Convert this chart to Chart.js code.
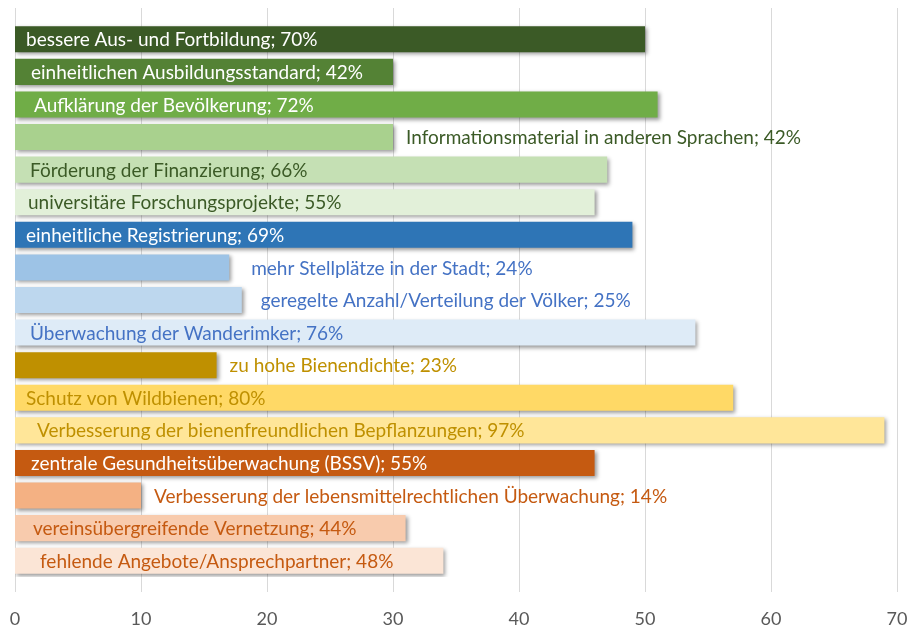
<!DOCTYPE html>
<html>
<head>
<meta charset="utf-8">
<script src="https://cdn.jsdelivr.net/npm/chart.js@4"></script>
<style>
  html, body { margin: 0; padding: 0; background: #fff; }
  #wrap { width: 917px; height: 630px; }
</style>
</head>
<body>
<div id="wrap"><canvas id="barChart"></canvas></div>
<script>
// Kategorien und Werte (von oben nach unten)
const categories = [
  'bessere Aus- und Fortbildung; 70%',
  'einheitlichen Ausbildungsstandard; 42%',
  'Aufklärung der Bevölkerung; 72%',
  'Informationsmaterial in anderen Sprachen; 42%',
  'Förderung der Finanzierung; 66%',
  'universitäre Forschungsprojekte; 55%',
  'einheitliche Registrierung; 69%',
  'mehr Stellplätze in der Stadt; 24%',
  'geregelte Anzahl/Verteilung der Völker; 25%',
  'Überwachung der Wanderimker; 76%',
  'zu hohe Bienendichte; 23%',
  'Schutz von Wildbienen; 80%',
  'Verbesserung der bienenfreundlichen Bepflanzungen; 97%',
  'zentrale Gesundheitsüberwachung (BSSV); 55%',
  'Verbesserung der lebensmittelrechtlichen Überwachung; 14%',
  'vereinsübergreifende Vernetzung; 44%',
  'fehlende Angebote/Ansprechpartner; 48%'
];
const values = [50, 30, 51, 30, 47, 46, 49, 17, 18, 54, 16, 57, 69, 46, 10, 31, 34];
const xTicks = [0, 10, 20, 30, 40, 50, 60, 70];

const barColors = [
  '#3b5a26', '#548235', '#70ad47', '#a9d18e', '#c5e0b4', '#e2f0d9',
  '#2e75b6', '#9dc3e6', '#bdd7ee', '#deebf7',
  '#bf9000', '#ffd966', '#ffe699',
  '#c55a11', '#f4b183', '#f8cbad', '#fbe5d6'
];
const labelColors = [
  '#ffffff', '#ffffff', '#ffffff', '#3b5a26', '#3b5a26', '#3b5a26',
  '#ffffff', '#4472c4', '#4472c4', '#4472c4',
  '#bf9000', '#bf9000', '#bf9000',
  '#ffffff', '#c55a11', '#c55a11', '#c55a11'
];
// inside: Abstand vom Balkenanfang, outside: Abstand vom Balkenende
const labelInside = [true, true, true, false, true, true, true, false, false, true, false, true, true, true, false, true, true];
const labelShift = [11, 16, 19, 13, 15, 13, 11, 22, 19, 15, 13, 11, 22, 16, 13, 18, 25];

const gridExtend = {
  id: 'gridExtend',
  beforeDatasetsDraw(chart) {
    const { ctx, chartArea, scales } = chart;
    ctx.save();
    ctx.strokeStyle = '#d9d9d9';
    ctx.lineWidth = 1;
    xTicks.forEach(t => {
      const x = Math.round(scales.x.getPixelForValue(t)) + 0.5;
      ctx.beginPath();
      ctx.moveTo(x, chartArea.top - 15);
      ctx.lineTo(x, chartArea.bottom + 15);
      ctx.stroke();
    });
    ctx.restore();
    // Schatten für die Balken
    ctx.save();
    ctx.shadowColor = 'rgba(0,0,0,0.4)';
    ctx.shadowBlur = 4;
    ctx.shadowOffsetX = 2;
    ctx.shadowOffsetY = 2;
  },
  afterDatasetsDraw(chart) {
    const { ctx, scales } = chart;
    ctx.restore();
    const meta = chart.getDatasetMeta(0);
    ctx.save();
    ctx.font = '19px Lato, "Open Sans", sans-serif';
    ctx.textBaseline = 'middle';
    ctx.textAlign = 'left';
    meta.data.forEach((bar, i) => {
      const x0 = scales.x.getPixelForValue(0);
      const x = labelInside[i] ? x0 + labelShift[i] : bar.x + labelShift[i];
      ctx.fillStyle = labelColors[i];
      ctx.fillText(categories[i], x, bar.y + 1);
    });
    ctx.restore();
  }
};

new Chart(document.getElementById('barChart'), {
  type: 'bar',
  data: {
    labels: categories,
    datasets: [{
      data: values,
      backgroundColor: barColors,
      borderWidth: 0,
      barPercentage: 0.8,
      categoryPercentage: 1.0
    }]
  },
  options: {
    indexAxis: 'y',
    responsive: true,
    maintainAspectRatio: false,
    animation: false,
    layout: { padding: { left: 15, right: 20, top: 23, bottom: 0 } },
    plugins: { legend: { display: false }, tooltip: { enabled: false } },
    scales: {
      x: {
        min: 0,
        max: 70,
        ticks: {
          stepSize: 10,
          padding: 31,
          color: '#595959',
          font: { family: 'Lato, "Open Sans", sans-serif', size: 18 }
        },
        grid: { display: false, drawTicks: false },
        border: { display: false },
        afterFit(scale) {
          scale.height = 53;
          scale.paddingLeft = 0;
          scale.paddingRight = 0;
        }
      },
      y: { display: false }
    }
  },
  plugins: [gridExtend]
});
</script>
</body>
</html>
